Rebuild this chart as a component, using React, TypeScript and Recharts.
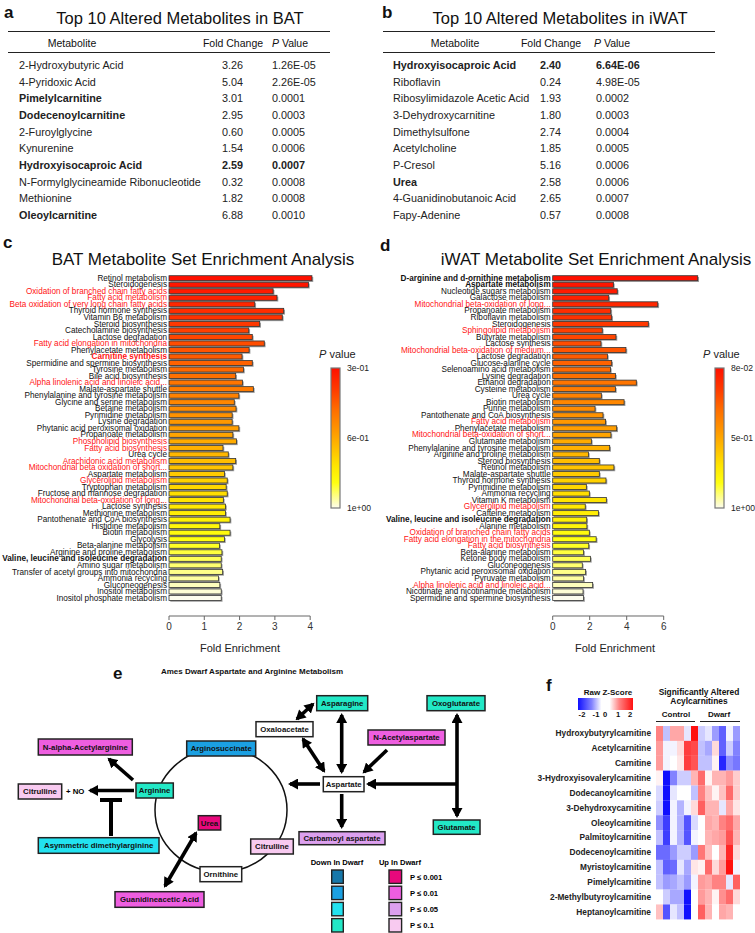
import React from "react";
import { Bar, BarChart, Cell, XAxis, YAxis } from "recharts";

const FONT = '"Liberation Sans", Arial, Helvetica, sans-serif';

// ---- a: top 10 metabolites in BAT
const batNames = [
  "2-Hydroxybutyric Acid",
  "4-Pyridoxic Acid",
  "Pimelylcarnitine",
  "Dodecenoylcarnitine",
  "2-Furoylglycine",
  "Kynurenine",
  "Hydroxyisocaproic Acid",
  "N-Formylglycineamide Ribonucleotide",
  "Methionine",
  "Oleoylcarnitine",
];
const batFold = ["3.26", "5.04", "3.01", "2.95", "0.60", "1.54", "2.59", "0.32", "1.82", "6.88"];
const batP = ["1.26E-05", "2.26E-05", "0.0001", "0.0003", "0.0005", "0.0006", "0.0007", "0.0008", "0.0008", "0.0010"];
const batBoldNames = ["Pimelylcarnitine", "Dodecenoylcarnitine", "Hydroxyisocaproic Acid", "Oleoylcarnitine"];
const batBoldRows = ["Hydroxyisocaproic Acid"];

// ---- b: top 10 metabolites in iWAT
const iwatNames = [
  "Hydroxyisocaproic Acid",
  "Riboflavin",
  "Ribosylimidazole Acetic Acid",
  "3-Dehydroxycarnitine",
  "Dimethylsulfone",
  "Acetylcholine",
  "P-Cresol",
  "Urea",
  "4-Guanidinobutanoic Acid",
  "Fapy-Adenine",
];
const iwatFold = ["2.40", "0.24", "1.93", "1.80", "2.74", "1.85", "5.16", "2.58", "2.65", "0.57"];
const iwatP = ["6.64E-06", "4.98E-05", "0.0002", "0.0003", "0.0004", "0.0005", "0.0006", "0.0006", "0.0007", "0.0008"];
const iwatBoldNames = ["Hydroxyisocaproic Acid", "Urea"];
const iwatBoldRows = ["Hydroxyisocaproic Acid"];

// ---- c: BAT enrichment
const batPathways = [
  "Retinol metabolism",
  "Steroidogenesis",
  "Oxidation of branched chain fatty acids",
  "Fatty acid metabolism",
  "Beta oxidation of very long chain fatty acids",
  "Thyroid hormone synthesis",
  "Vitamin B6 metabolism",
  "Steroid biosynthesis",
  "Catecholamine biosynthesis",
  "Lactose degradation",
  "Fatty acid elongation in mitochondria",
  "Phenylacetate metabolism",
  "Carnitine synthesis",
  "Spermidine and spermine biosynthesis",
  "Tyrosine metabolism",
  "Bile acid biosynthesis",
  "Alpha linolenic acid and linoleic acid...",
  "Malate-aspartate shuttle",
  "Phenylalanine and tyrosine metabolism",
  "Glycine and serine metabolism",
  "Betaine metabolism",
  "Pyrimidine metabolism",
  "Lysine degradation",
  "Phytanic acid peroxisomal oxidation",
  "Propanoate metabolism",
  "Phospholipid biosynthesis",
  "Fatty acid biosynthesis",
  "Urea cycle",
  "Arachidonic acid metabolism",
  "Mitochondrial beta oxidation of short...",
  "Aspartate metabolism",
  "Glycerolipid metabolism",
  "Tryptophan metabolism",
  "Fructose and mannose degradation",
  "Mitochondrial beta-oxidation of long...",
  "Lactose synthesis",
  "Methionine metabolism",
  "Pantothenate and CoA biosynthesis",
  "Histidine metabolism",
  "Biotin metabolism",
  "Glycolysis",
  "Beta-alanine metabolism",
  "Arginine and proline metabolism",
  "Valine, leucine and isoleucine degradation",
  "Amino sugar metabolism",
  "Transfer of acetyl groups into mitochondria",
  "Ammonia recycling",
  "Gluconeogenesis",
  "Inositol metabolism",
  "Inositol phosphate metabolism",
];
const batEnrichment = [
  4.05, 3.95, 2.95, 3.06, 2.43, 3.25, 3.21, 2.57, 2.26, 2.36,
  2.7, 2.27, 2.07, 2.36, 2.11, 1.89, 2.08, 2.39, 1.98, 1.85,
  1.9, 1.79, 1.79, 1.98, 1.81, 1.91, 1.53, 1.68, 1.89, 1.81,
  1.57, 1.65, 1.62, 1.65, 1.54, 1.6, 1.6, 1.73, 1.44, 1.73,
  1.57, 1.43, 1.5, 1.48, 1.48, 1.52, 1.4, 1.44, 1.48, 1.48,
];
const batRed = [
  "Oxidation of branched chain fatty acids",
  "Fatty acid metabolism",
  "Beta oxidation of very long chain fatty acids",
  "Fatty acid elongation in mitochondria",
  "Carnitine synthesis",
  "Alpha linolenic acid and linoleic acid...",
  "Phospholipid biosynthesis",
  "Fatty acid biosynthesis",
  "Arachidonic acid metabolism",
  "Mitochondrial beta oxidation of short...",
  "Glycerolipid metabolism",
  "Mitochondrial beta-oxidation of long...",
];
const batBold = ["Carnitine synthesis", "Valine, leucine and isoleucine degradation"];

// ---- d: iWAT enrichment
const iwatPathways = [
  "D-arginine and d-ornithine metabolism",
  "Aspartate metabolism",
  "Nucleotide sugars metabolism",
  "Galactose metabolism",
  "Mitochondrial beta-oxidation of long...",
  "Propanoate metabolism",
  "Riboflavin metabolism",
  "Steroidogenesis",
  "Sphingolipid metabolism",
  "Butyrate metabolism",
  "Lactose synthesis",
  "Mitochondrial beta-oxidation of medium...",
  "Lactose degradation",
  "Glucose-alanine cycle",
  "Selenoamino acid metabolism",
  "Lysine degradation",
  "Ethanol degradation",
  "Cysteine metabolism",
  "Urea cycle",
  "Biotin metabolism",
  "Purine metabolism",
  "Pantothenate and CoA biosynthesis",
  "Fatty acid metabolism",
  "Phenylacetate metabolism",
  "Mitochondrial beta-oxidation of short...",
  "Glutamate metabolism",
  "Phenylalanine and tyrosine metabolism",
  "Arginine and proline metabolism",
  "Steroid biosynthesis",
  "Retinol metabolism",
  "Malate-aspartate shuttle",
  "Thyroid hormone synthesis",
  "Pyrimidine metabolism",
  "Ammonia recycling",
  "Vitamin K metabolism",
  "Glycerolipid metabolism",
  "Caffeine metabolism",
  "Valine, leucine and isoleucine degradation",
  "Alanine metabolism",
  "Oxidation of branched chain fatty acids",
  "Fatty acid elongation in the mitochondria",
  "Fatty acid biosynthesis",
  "Beta-alanine metabolism",
  "Ketone body metabolism",
  "Gluconeogenesis",
  "Phytanic acid peroxisomal oxidation",
  "Pyruvate metabolism",
  "Alpha linolenic acid and linoleic acid...",
  "Nicotinate and nicotinamide metabolism",
  "Spermidine and spermine biosynthesis",
];
const iwatEnrichment = [
  7.84, 3.28, 3.49, 3.03, 5.68, 3.14, 3.19, 5.17, 2.68, 3.42,
  2.61, 3.96, 2.96, 3.19, 3.12, 3.39, 4.52, 3.39, 2.63, 3.86,
  2.29, 2.72, 2.86, 3.46, 3.15, 2.09, 3.08, 1.93, 2.52, 3.31,
  2.52, 2.88, 1.82, 1.98, 2.9, 1.76, 2.47, 1.84, 1.85, 1.98,
  2.35, 1.95, 1.67, 2.04, 1.6, 1.78, 1.67, 2.16, 1.64, 1.67,
];
const iwatRed = [
  "Mitochondrial beta-oxidation of long...",
  "Sphingolipid metabolism",
  "Mitochondrial beta-oxidation of medium...",
  "Fatty acid metabolism",
  "Mitochondrial beta-oxidation of short...",
  "Glycerolipid metabolism",
  "Oxidation of branched chain fatty acids",
  "Fatty acid elongation in the mitochondria",
  "Fatty acid biosynthesis",
  "Alpha linolenic acid and linoleic acid...",
];
const iwatBold = [
  "D-arginine and d-ornithine metabolism",
  "Aspartate metabolism",
  "Valine, leucine and isoleucine degradation",
];

// ---- f: acylcarnitine heatmap (6 control, 6 dwarf)
const acylNames = [
  "Hydroxybutyrylcarnitine",
  "Acetylcarnitine",
  "Carnitine",
  "3-Hydroxyisovalerylcarnitine",
  "Dodecanoylcarnitine",
  "3-Dehydroxycarnitine",
  "Oleoylcarnitine",
  "Palmitoylcarnitine",
  "Dodecenoylcarnitine",
  "Myristoylcarnitine",
  "Pimelylcarnitine",
  "2-Methylbutyroylcarnitine",
  "Heptanoylcarnitine",
];
const acylZ = [
  [1.0, -0.5, 0.7, 0.7, -0.2, 2.0, -0.4, -0.2, -0.8, -1.3, -0.1, -0.8],
  [0.8, -0.1, -0.1, 0.3, 1.6, 1.5, -0.5, -0.7, 0.3, -1.3, -0.4, -1.0],
  [0.8, -0.1, 0.0, 0.2, 1.6, 1.4, -0.5, -0.5, 0.1, -1.8, -0.9, -1.1],
  [0.1, -2.2, -1.0, -0.4, -0.4, 0.6, 1.2, 0.1, 0.6, 0.6, 0.8, 0.4],
  [-0.3, -2.2, -0.2, 0.0, 0.0, -0.5, 1.0, 0.5, 0.1, 0.5, 1.2, 0.4],
  [-0.4, -2.2, -0.1, -0.6, -0.1, 0.3, 1.3, 0.6, 0.6, -0.2, 0.7, 0.2],
  [-0.9, -1.6, -0.1, -0.6, -1.4, -0.3, 0.0, 0.7, 0.6, 1.0, 1.2, 0.7],
  [-0.5, -1.6, -0.1, -0.6, -1.4, -0.1, 0.0, 0.6, 0.7, 0.8, 1.4, 0.6],
  [-1.2, -1.2, -0.8, -0.4, -0.4, -0.8, 1.1, 0.5, 0.0, 0.6, 1.8, 0.3],
  [-0.5, -1.3, -1.2, -0.2, -0.7, 0.2, 0.1, 1.2, 0.3, 0.8, 2.0, -0.1],
  [-0.5, -0.8, -0.7, -0.5, -0.8, -0.1, 0.8, 0.7, 1.0, 1.0, -0.2, 1.3],
  [0.0, -0.4, -0.7, -0.7, -2.2, 0.0, 0.8, 0.6, 0.1, 0.9, 1.2, 0.3],
  [0.5, -1.4, -0.2, -0.5, -2.2, 0.0, 1.3, 0.6, 0.0, 0.7, 0.6, 0.0],
];
const sampleKeys = ["c1", "c2", "c3", "c4", "c5", "c6", "d1", "d2", "d3", "d4", "d5", "d6"];

// ---- colour helpers
const HEAT_STOPS: [number, number[]][] = [
  [0, [255, 16, 0]],
  [0.15, [255, 58, 0]],
  [0.3, [255, 110, 0]],
  [0.45, [255, 152, 0]],
  [0.58, [255, 192, 0]],
  [0.7, [255, 230, 0]],
  [0.82, [255, 255, 16]],
  [0.88, [255, 255, 90]],
  [1, [252, 252, 238]],
];

function lerpStops(stops: [number, number[]][], t: number) {
  const v = Math.max(0, Math.min(1, t));
  for (let i = 1; i < stops.length; i++) {
    const [t1, c1] = stops[i];
    const [t0, c0] = stops[i - 1];
    if (v <= t1) {
      const f = (v - t0) / (t1 - t0);
      const c = c0.map((a, k) => Math.round(a + (c1[k] - a) * f));
      return `rgb(${c[0]},${c[1]},${c[2]})`;
    }
  }
  const c = stops[stops.length - 1][1];
  return `rgb(${c[0]},${c[1]},${c[2]})`;
}

const heatColor = (t: number) => lerpStops(HEAT_STOPS, t);
const zColor = (z: number) =>
  lerpStops(
    [
      [0, [16, 16, 255]],
      [0.25, [130, 130, 255]],
      [0.5, [255, 255, 255]],
      [0.75, [255, 130, 130]],
      [1, [255, 16, 16]],
    ],
    (z + 2) / 4
  );

// ---- small text helper
function Txt({ x, y, children, size = 10, bold = false, anchor = "start", color = "#111", italic = false }: any) {
  const tx = anchor === "middle" ? "-50%" : anchor === "end" ? "-100%" : "0";
  return (
    <div
      style={{
        position: "absolute",
        left: x,
        top: y,
        transform: `translate(${tx}, -50%)`,
        fontSize: size,
        fontWeight: bold ? "bold" : "normal",
        fontStyle: italic ? "italic" : "normal",
        color,
        whiteSpace: "nowrap",
        lineHeight: 1,
      }}
    >
      {children}
    </div>
  );
}

function MetaboliteTable({ left, right, titleX, title, names, fold, p, boldNames, boldRows, cols }: any) {
  const rowY = (i: number) => 65 + i * 16.67;
  return (
    <>
      <Txt x={titleX} y={18} size={16.5} anchor="middle">
        {title}
      </Txt>
      <div style={{ position: "absolute", left, width: right - left, top: 31, borderTop: "1px solid #222" }} />
      <div style={{ position: "absolute", left, width: right - left, top: 52, borderTop: "1.5px solid #222" }} />
      <Txt x={cols.head} y={43} size={10.5} anchor="middle">
        Metabolite
      </Txt>
      <Txt x={cols.foldHead} y={43} size={10.5} anchor="middle">
        Fold Change
      </Txt>
      <Txt x={cols.pHead} y={43} size={10.5} anchor="middle">
        <i>P</i> Value
      </Txt>
      {names.map((n: string, i: number) => (
        <React.Fragment key={n}>
          <Txt x={cols.name} y={rowY(i)} size={10.8} bold={boldNames.includes(n)} color="#222">
            {n}
          </Txt>
          <Txt x={cols.fold} y={rowY(i)} size={10.8} bold={boldRows.includes(n)} color="#222">
            {fold[i]}
          </Txt>
          <Txt x={cols.p} y={rowY(i)} size={10.8} bold={boldRows.includes(n)} color="#222">
            {p[i]}
          </Txt>
        </React.Fragment>
      ))}
    </>
  );
}

function PathwayTick(props: any) {
  const { x, y, payload, red, bold } = props;
  const name = payload.value;
  return (
    <text
      x={x}
      y={y}
      dy="0.35em"
      textAnchor="end"
      fontSize={8.2}
      fontFamily={FONT}
      fill={red.includes(name) ? "#ff1414" : "#111"}
      fontWeight={bold.includes(name) ? "bold" : "normal"}
    >
      {name}
    </text>
  );
}

function ShadowBar(props: any) {
  const { x, y, width, height, fill } = props;
  if (!width || width <= 0) return null;
  return (
    <g>
      <rect x={x + 1.3} y={y + 1.3} width={width} height={height} fill="#a0a0a0" />
      <rect x={x} y={y} width={width} height={height} fill={fill} stroke="#333" strokeWidth={0.8} />
    </g>
  );
}

const ENR_RIGHT = 6;

function EnrichmentChart({ left, names, values, red, bold, yAxisWidth, chartWidth, domainMax, axisMax, ticks }: any) {
  const data = names.map((name: string, i: number) => ({ name, value: values[i] }));
  const plotW = chartWidth - yAxisWidth - ENR_RIGHT;
  const axisLen = (plotW * axisMax) / domainMax;
  return (
    <div style={{ position: "absolute", left, top: 270 }}>
      <BarChart
        width={chartWidth}
        height={390}
        data={data}
        layout="vertical"
        margin={{ top: 4.7, right: ENR_RIGHT, bottom: 0, left: 0 }}
      >
        <XAxis
          type="number"
          domain={[0, domainMax]}
          ticks={ticks}
          height={44}
          tickSize={4}
          tickMargin={3}
          tick={{ fontSize: 10, fill: "#333", fontFamily: FONT }}
          axisLine={{ stroke: "#666", strokeDasharray: `${axisLen} 2000` }}
          tickLine={{ stroke: "#666" }}
        />
        <YAxis
          type="category"
          dataKey="name"
          width={yAxisWidth}
          interval={0}
          tickSize={0}
          tickMargin={2}
          tickLine={false}
          axisLine={false}
          padding={{ top: 0, bottom: 15 }}
          tick={<PathwayTick red={red} bold={bold} />}
        />
        <Bar dataKey="value" barSize={5} isAnimationActive={false} shape={<ShadowBar />}>
          {data.map((d: any, i: number) => (
            <Cell key={d.name} fill={heatColor(i / (data.length - 1))} />
          ))}
        </Bar>
      </BarChart>
    </div>
  );
}

function PColorBar({ x, labels }: any) {
  const id = `pg${x}`;
  return (
    <>
      <Txt x={x - 12} y={354} size={11} color="#222">
        <i>P</i> value
      </Txt>
      <svg style={{ position: "absolute", left: x - 2, top: 366 }} width={14} height={146}>
        <defs>
          <linearGradient id={id} x1="0" y1="0" x2="0" y2="1">
            {[0, 0.15, 0.3, 0.45, 0.58, 0.7, 0.82, 0.88, 1].map((t) => (
              <stop key={t} offset={t} stopColor={heatColor(t)} />
            ))}
          </linearGradient>
        </defs>
        <rect x={2} y={2} width={9} height={140} fill={`url(#${id})`} stroke="#777" strokeWidth={1.2} />
      </svg>
      {labels.map((l: string, i: number) => (
        <Txt key={l} x={x + 16} y={368 + i * 70} size={8.6} color="#222">
          {l}
        </Txt>
      ))}
    </>
  );
}

// ---- e: pathway diagram (schematic, not data)
function Node({ x, y, w, h, label, fill }: any) {
  return (
    <g>
      <rect x={x} y={y} width={w} height={h} fill={fill} stroke="#222" strokeWidth={1.5} />
      <text
        x={x + w / 2}
        y={y + h / 2}
        dy="0.35em"
        textAnchor="middle"
        fontSize={7.8}
        fontWeight="bold"
        fontFamily={FONT}
        fill="#111"
      >
        {label}
      </text>
    </g>
  );
}

const TEAL = "#22e8c6";
const CYAN = "#22e2f0";
const BLUE = "#1ba0e2";
const DEEP = "#1778aa";
const MAG1 = "#e8087c";
const MAG2 = "#ee5ee0";
const MAG3 = "#dca0ee";
const MAG4 = "#f8caf0";

function Arrow({ x1, y1, x2, y2, both = false }: any) {
  return (
    <line
      x1={x1}
      y1={y1}
      x2={x2}
      y2={y2}
      stroke="#000"
      strokeWidth={3.6}
      markerEnd="url(#ah)"
      markerStart={both ? "url(#ahs)" : undefined}
    />
  );
}

function Diagram() {
  return (
    <svg style={{ position: "absolute", left: 0, top: 0 }} width={755} height={933}>
      <defs>
        <marker id="ah" markerUnits="userSpaceOnUse" markerWidth={11} markerHeight={11} refX={8} refY={5.5} orient="auto">
          <path d="M0,0 L10,5.5 L0,11 Z" fill="#000" />
        </marker>
        <marker id="ahs" markerUnits="userSpaceOnUse" markerWidth={11} markerHeight={11} refX={2} refY={5.5} orient="auto">
          <path d="M10,0 L0,5.5 L10,11 Z" fill="#000" />
        </marker>
      </defs>
      <ellipse cx={221} cy={810} rx={66} ry={62} fill="none" stroke="#111" strokeWidth={1.5} />
      <Arrow x1={133} y1={780} x2={109} y2={759} />
      <Arrow x1={134} y1={790.5} x2={90} y2={790.5} />
      <line x1={111} y1={836} x2={111} y2={800} stroke="#000" strokeWidth={4} />
      <line x1={100} y1={800} x2={122} y2={800} stroke="#000" strokeWidth={4} />
      <Arrow x1={165} y1={886} x2={196} y2={833} both />
      <Arrow x1={297} y1={719} x2={313} y2={704} both />
      <Arrow x1={303} y1={739} x2={324} y2={771} both />
      <Arrow x1={341.7} y1={715} x2={341.7} y2={772} both />
      <Arrow x1={387} y1={750} x2={364} y2={772} />
      <Arrow x1={320} y1={784} x2={290} y2={784} />
      <Arrow x1={457} y1={784} x2={368} y2={784} />
      <Arrow x1={457} y1={715} x2={457} y2={816} both />
      <Arrow x1={341.7} y1={794} x2={341.7} y2={827} />

      <Node x={316.7} y={695.7} w={51} h={15} label="Asparagine" fill={TEAL} />
      <Node x={256} y={721.7} w={57} h={15} label="Oxaloacetate" fill="#fff" />
      <Node x={368} y={730} w={77} h={15} label="N-Acetylaspartate" fill={MAG2} />
      <Node x={427} y={695.7} w={58} h={15} label="Oxoglutarate" fill={TEAL} />
      <Node x={186.7} y={741} w={69} h={15} label="Arginosuccinate" fill={BLUE} />
      <Node x={38.3} y={739} w={94} h={16} label="N-alpha-Acetylarginine" fill={MAG2} />
      <Node x={18.3} y={784} w={43.4} h={15} label="Citrulline" fill={MAG4} />
      <text x={66} y={791.5} dy="0.35em" fontSize={7.8} fontWeight="bold" fontFamily={FONT}>
        + NO
      </text>
      <Node x={136} y={783} w={37.3} h={15} label="Arginine" fill={TEAL} />
      <Node x={38.3} y={837.7} w={120.7} h={15.6} label="Asymmetric dimethylarginine" fill={CYAN} />
      <Node x={198.3} y={815.7} w={22.4} h={14.3} label="Urea" fill={MAG1} />
      <Node x={250.7} y={839} w={42.6} h={15} label="Citrulline" fill={MAG4} />
      <Node x={200} y={866.7} w={41.7} h={15} label="Ornithine" fill="#fff" />
      <Node x={115} y={891.7} w={89} h={15.6} label="Guanidineacetic Acid" fill={MAG2} />
      <Node x={323.3} y={776.7} w={40.7} h={15} label="Aspartate" fill="#fff" />
      <Node x={433.3} y={820} w={46.7} h={14.3} label="Glutamate" fill={TEAL} />
      <Node x={299} y={831.7} w={86} h={13} label="Carbamoyl aspartate" fill={MAG3} />

      <text x={337} y={862} dy="0.35em" textAnchor="middle" fontSize={7.6} fontWeight="bold" fontFamily={FONT}>
        Down In Dwarf
      </text>
      <text x={400} y={862} dy="0.35em" textAnchor="middle" fontSize={7.6} fontWeight="bold" fontFamily={FONT}>
        Up In Dwarf
      </text>
      {[DEEP, BLUE, CYAN, TEAL].map((c, i) => (
        <rect key={c} x={331.7} y={870 + i * 16.2} width={11.6} height={13.4} fill={c} stroke="#222" strokeWidth={1.4} />
      ))}
      {[MAG1, MAG2, MAG3, MAG4].map((c, i) => (
        <rect key={c} x={389} y={870 + i * 16.2} width={12.6} height={13.4} fill={c} stroke="#222" strokeWidth={1.4} />
      ))}
      {["P ≤ 0.001", "P ≤ 0.01", "P ≤ 0.05", "P ≤ 0.1"].map((l, i) => (
        <text key={l} x={410} y={877 + i * 16.2} dy="0.35em" fontSize={7.6} fontWeight="bold" fontFamily={FONT}>
          {l}
        </text>
      ))}
    </svg>
  );
}

function HeatTick(props: any) {
  const { x, y, payload } = props;
  return (
    <text x={x} y={y} dy="0.35em" textAnchor="end" fontSize={8.3} fontWeight="bold" fontFamily={FONT} fill="#222">
      {payload.value}
    </text>
  );
}

function Heatmap() {
  const data = acylNames.map((name, i) => {
    const row: any = { name };
    sampleKeys.forEach((k, j) => (row[k] = acylZ[i][j]));
    return row;
  });
  return (
    <div style={{ position: "absolute", left: 510, top: 720 }}>
      <BarChart
        width={235}
        height={205}
        data={data}
        layout="vertical"
        barCategoryGap={0}
        barGap={0}
        margin={{ top: 6, right: 5, bottom: 5.7, left: 0 }}
      >
        <XAxis type="number" domain={[0, sampleKeys.length]} hide />
        <YAxis
          type="category"
          dataKey="name"
          width={146}
          interval={0}
          tickSize={0}
          tickMargin={5}
          tickLine={false}
          axisLine={false}
          tick={<HeatTick />}
        />
        {sampleKeys.map((k) => (
          <Bar key={k} dataKey={() => 1} stackId="h" isAnimationActive={false}>
            {data.map((row: any) => (
              <Cell key={row.name} fill={zColor(row[k])} />
            ))}
          </Bar>
        ))}
      </BarChart>
    </div>
  );
}

export default function App() {
  return (
    <div
      style={{
        position: "absolute",
        left: 0,
        top: 0,
        width: 755,
        height: 933,
        background: "#fff",
        fontFamily: FONT,
        overflow: "hidden",
      }}
    >
      {/* panel letters */}
      <Txt x={4} y={12} size={17} bold>a</Txt>
      <Txt x={382} y={12} size={17} bold>b</Txt>
      <Txt x={3} y={242} size={17} bold>c</Txt>
      <Txt x={380} y={245} size={17} bold>d</Txt>
      <Txt x={113} y={673} size={17} bold>e</Txt>
      <Txt x={546} y={685} size={17} bold>f</Txt>

      <MetaboliteTable
        left={8}
        right={330}
        titleX={180}
        title="Top 10 Altered Metabolites in BAT"
        names={batNames}
        fold={batFold}
        p={batP}
        boldNames={batBoldNames}
        boldRows={batBoldRows}
        cols={{ head: 72, foldHead: 233, pHead: 290, name: 19, fold: 222, p: 272 }}
      />
      <MetaboliteTable
        left={383}
        right={715}
        titleX={560}
        title="Top 10 Altered Metabolites in iWAT"
        names={iwatNames}
        fold={iwatFold}
        p={iwatP}
        boldNames={iwatBoldNames}
        boldRows={iwatBoldRows}
        cols={{ head: 455, foldHead: 551, pHead: 612, name: 393, fold: 540, p: 596 }}
      />

      <Txt x={203} y={259} size={17} anchor="middle">BAT Metabolite Set Enrichment Analysis</Txt>
      <Txt x={596} y={259} size={17} anchor="middle">iWAT Metabolite Set Enrichment Analysis</Txt>

      <EnrichmentChart
        left={0}
        names={batPathways}
        values={batEnrichment}
        red={batRed}
        bold={batBold}
        yAxisWidth={169}
        chartWidth={325}
        domainMax={4.25}
        axisMax={4}
        ticks={[0, 1, 2, 3, 4]}
      />
      <EnrichmentChart
        left={380}
        names={iwatPathways}
        values={iwatEnrichment}
        red={iwatRed}
        bold={iwatBold}
        yAxisWidth={172.7}
        chartWidth={326.7}
        domainMax={8}
        axisMax={6}
        ticks={[0, 2, 4, 6]}
      />
      <Txt x={240} y={648} size={11} anchor="middle" color="#222">Fold Enrichment</Txt>
      <Txt x={615} y={648} size={11} anchor="middle" color="#222">Fold Enrichment</Txt>

      <PColorBar x={331} labels={["3e-01", "6e-01", "1e+00"]} />
      <PColorBar x={715} labels={["8e-02", "5e-01", "1e+00"]} />

      <Txt x={252} y={672} size={8} bold anchor="middle">Ames Dwarf Aspartate and Arginine Metabolism</Txt>
      <Diagram />

      {/* f legend and headers */}
      <Txt x={608} y={693} size={8} bold anchor="middle">Raw Z-Score</Txt>
      <svg style={{ position: "absolute", left: 577, top: 697 }} width={58} height={15}>
        <defs>
          <linearGradient id="zg" x1="0" y1="0" x2="1" y2="0">
            {[-2, -1, -0.3, 0.3, 1, 2].map((z) => (
              <stop key={z} offset={(z + 2) / 4} stopColor={zColor(Math.abs(z) < 0.5 ? 0 : z)} />
            ))}
          </linearGradient>
        </defs>
        <rect x={1} y={1} width={55} height={12} fill="url(#zg)" />
      </svg>
      {["-2", "-1", "0", "1", "2"].map((l, i) => (
        <Txt key={l} x={[582, 596, 605, 618, 630][i]} y={715} size={7.6} bold anchor="middle">{l}</Txt>
      ))}
      <Txt x={699} y={692} size={8.4} bold anchor="middle">Significantly Altered</Txt>
      <Txt x={699} y={701} size={8.4} bold anchor="middle">Acylcarnitines</Txt>
      <Txt x={676} y={715} size={8} bold anchor="middle">Control</Txt>
      <Txt x={719} y={715} size={8} bold anchor="middle">Dwarf</Txt>
      <div style={{ position: "absolute", left: 656, top: 721, width: 39, borderTop: "1.5px solid #222" }} />
      <div style={{ position: "absolute", left: 699.5, top: 721, width: 40.5, borderTop: "1.5px solid #222" }} />
      <Heatmap />
    </div>
  );
}
